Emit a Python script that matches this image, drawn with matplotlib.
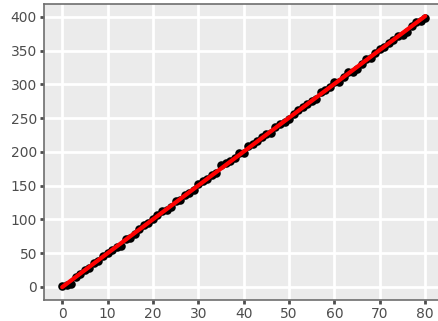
import numpy as np
import matplotlib.pyplot as plt

# datos
x_vals = [0, 1, 2, 3, 4, 5, 6, 7, 8, 9, 10, 11, 12, 13, 14, 15, 16, 17, 18, 19,
          20, 21, 22, 23, 24, 25, 26, 27, 28, 29, 30, 31, 32, 33, 34, 35, 36, 37, 38, 39,
          40, 41, 42, 43, 44, 45, 46, 47, 48, 49, 50, 51, 52, 53, 54, 55, 56, 57, 58, 59,
          60, 61, 62, 63, 64, 65, 66, 67, 68, 69, 70, 71, 72, 73, 74, 75, 76, 77, 78, 79, 80]
y_vals = [1, 2, 4, 14, 19, 25, 28, 35, 38, 46, 50, 54, 59, 61, 71, 73, 79, 86, 92, 94,
          101, 107, 112, 114, 119, 127, 129, 136, 139, 143, 153, 157, 160, 166, 169, 181, 183, 187, 191, 198,
          199, 208, 211, 216, 222, 226, 228, 237, 241, 244, 248, 256, 262, 266, 271, 276, 279, 288, 291, 296,
          303, 304, 311, 318, 319, 323, 330, 337, 339, 347, 352, 355, 361, 366, 371, 373, 378, 387, 392, 394, 399]
x_ticks = [0, 10, 20, 30, 40, 50, 60, 70, 80]
y_ticks = [0, 50, 100, 150, 200, 250, 300, 350, 400]

fig = plt.figure(figsize=(4.39, 3.21), dpi=100)
ax = fig.add_axes([44 / 439, 21 / 321, 1 - 44 / 439 + 0.01, (300 - 4) / 321])
ax.set_facecolor('#EBEBEB')

ax.scatter(x_vals, y_vals, s=38, color='black', zorder=3, linewidths=0)

# recta de ajuste
pend, orig = np.polyfit(x_vals, y_vals, 1)
xs = np.array([min(x_vals), max(x_vals)])
ax.plot(xs, pend * xs + orig, color='red', linewidth=3, solid_capstyle='round', zorder=4)

ax.set_xlim(-4, 84)
ax.set_ylim(-19.5, 419)
ax.set_xticks(x_ticks)
ax.set_yticks(y_ticks)
ax.grid(True, color='white', linewidth=2)
ax.set_axisbelow(True)

for lado in ['left', 'top', 'bottom']:
    ax.spines[lado].set_color('#6E6E6E')
    ax.spines[lado].set_linewidth(1.2)
ax.spines['right'].set_visible(False)

ax.tick_params(axis='both', colors='#4D4D4D', labelsize=10, length=3, width=2,
               labelcolor='#4D4D4D', pad=2)

fig.savefig('out.png', dpi=100)
